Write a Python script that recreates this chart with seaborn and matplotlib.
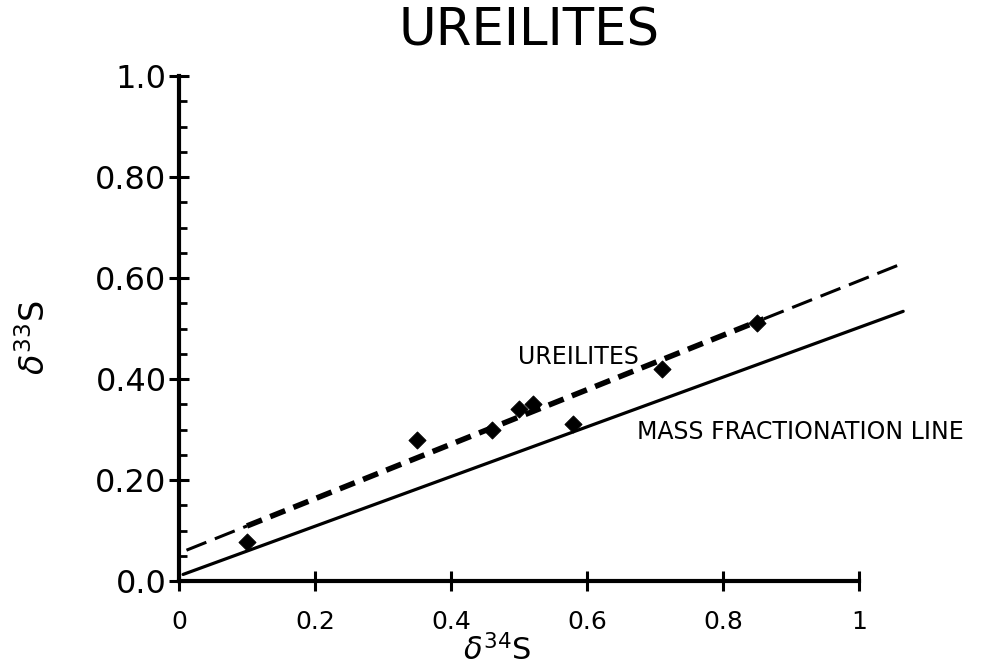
import matplotlib
matplotlib.use("Agg")
import matplotlib.pyplot as plt
import seaborn as sns
import numpy as np
import pandas as pd
from matplotlib.ticker import MultipleLocator

# ---- data ----
d34 = [0.10, 0.35, 0.46, 0.50, 0.52, 0.58, 0.71, 0.85]
d33 = [0.077, 0.28, 0.30, 0.34, 0.35, 0.31, 0.42, 0.51]

mfl_x = [0.006, 1.065]          # mass fractionation line (solid)
mfl_y = [0.013, 0.534]
ure_lo_x = [0.011, 0.10]        # ureilite line, thin dashed extension (low end)
ure_lo_y = [0.061, 0.109]
ure_fit_x = [0.10, 0.86]        # ureilite fit through the data (thick dashed)
ure_fit_y = [0.109, 0.519]
ure_hi_x = [0.86, 1.057]        # ureilite line, thin dashed extension (high end)
ure_hi_y = [0.519, 0.625]

xticks = [0, 0.2, 0.4, 0.6, 0.8, 1]
xticklabels = ["0", "0.2", "0.4", "0.6", "0.8", "1"]
yticks = [0.0, 0.2, 0.4, 0.6, 0.8, 1.0]
yticklabels = ["0.0", "0.20", "0.40", "0.60", "0.80", "1.0"]

sns.set_style("white")
plt.rcParams['font.family'] = ['DejaVu Sans']
plt.rcParams['text.color'] = 'black'
plt.rcParams['axes.labelcolor'] = 'black'
plt.rcParams['xtick.color'] = 'black'
plt.rcParams['ytick.color'] = 'black'

fig = plt.figure(figsize=(9.81, 6.70), dpi=100)
ax = fig.add_axes([179/981, 1-581/670, 734.4/981, 505/670])

pts = pd.DataFrame({"d34": d34, "d33": d33})

sns.lineplot(x=mfl_x, y=mfl_y, ax=ax, color="black", linewidth=2.3)
for xs, ys in [(ure_lo_x, ure_lo_y), (ure_hi_x, ure_hi_y)]:
    sns.lineplot(x=xs, y=ys, ax=ax, color="black", linewidth=2.2)
    ax.lines[-1].set_dashes((7, 3))
sns.lineplot(x=ure_fit_x, y=ure_fit_y, ax=ax, color="black", linewidth=4.0)
ax.lines[-1].set_dashes((2.9, 1.6))
sns.scatterplot(data=pts, x="d34", y="d33", ax=ax, marker="D", s=75,
                color="black", edgecolor="black", zorder=5)

ax.set_xlim(0, 1.08)
ax.set_ylim(0, 1.0)
for s in ["top", "right"]:
    ax.spines[s].set_visible(False)
for s in ["left", "bottom"]:
    ax.spines[s].set_linewidth(3)
    ax.spines[s].set_color("black")
    ax.spines[s].set_bounds(0, 1)

ax.set_xticks(xticks)
ax.set_xticklabels(xticklabels, fontsize=18)
ax.set_yticks(yticks)
ax.set_yticklabels(yticklabels, fontsize=23)
ax.yaxis.set_minor_locator(MultipleLocator(0.05))
ax.tick_params(axis="both", which="major", direction="inout", length=14,
               width=2.2, color="black", bottom=True, left=True)
ax.tick_params(axis="x", which="major", pad=14)
ax.tick_params(axis="y", which="major", pad=2)
ax.tick_params(axis="y", which="minor", direction="in", length=6, width=2,
               color="black", left=True)

ax.set_xlabel(r"$\delta^{34}$S", fontsize=22, color="black")
ax.xaxis.set_label_coords((497-179)/734.4, (581-650)/505)
ax.xaxis.label.set_va("center")
ax.set_ylabel(r"$\delta^{33}$S", fontsize=24, color="black")
ax.yaxis.set_label_coords((35-179)/734.4, (581-338)/505)
ax.yaxis.label.set_va("center")

ax.text(0.587, 0.444, "UREILITES", fontsize=17, ha="center", va="center",
        color="black")
ax.text(0.673, 0.295, "MASS FRACTIONATION LINE", fontsize=17,
        ha="left", va="center", color="black")

fig.text(529/981, 1-32/670, "UREILITES", fontsize=37, ha="center",
         va="center", color="black")

fig.savefig("out.png", dpi=100, facecolor="white")
